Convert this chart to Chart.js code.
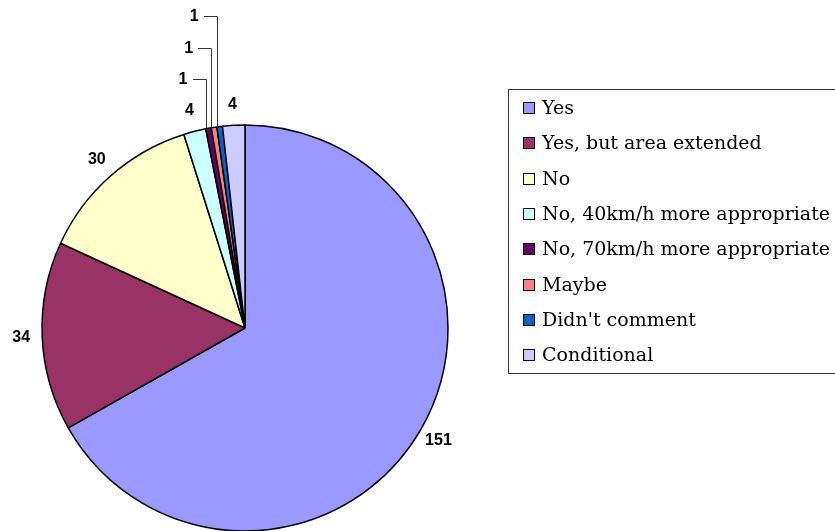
<!DOCTYPE html>
<html>
<head>
<meta charset="utf-8">
<script src="https://cdn.jsdelivr.net/npm/chart.js@4/dist/chart.umd.min.js"></script>
<style>
  html, body { margin: 0; padding: 0; background: #fff; }
  #wrap { width: 835px; height: 531px; }
</style>
</head>
<body>
<div id="wrap"><canvas id="pieChart" width="835" height="531"></canvas></div>
<script>
// answers and counts
const labels = ["Yes", "Yes, but area extended", "No", "No, 40km/h more appropriate",
    "No, 70km/h more appropriate", "Maybe", "Didn't comment", "Conditional"];
const counts = [151, 34, 30, 4, 1, 1, 1, 4];
const colors = ["#9999FF", "#993366", "#FFFFCC", "#CCFFFF", "#660066", "#FF8080", "#0066CC", "#CCCCFF"];

// small slices get a leader line
const leaderIdx = [4, 5, 6];

const labelPlugin = {
    id: "sliceLabels",
    afterDatasetsDraw(chart) {
        const ctx = chart.ctx;
        const meta = chart.getDatasetMeta(0);
        ctx.save();
        ctx.font = "bold 16px 'Liberation Sans', Arial, sans-serif";
        ctx.fillStyle = "#000";
        ctx.textBaseline = "middle";
        meta.data.forEach((arc, i) => {
            const p = arc.getProps(["x", "y", "startAngle", "endAngle", "outerRadius"], true);
            const mid = (p.startAngle + p.endAngle) / 2;
            const k = leaderIdx.indexOf(i);
            if (k < 0) {
                const r = p.outerRadius + 21;
                ctx.textAlign = "center";
                ctx.fillText(String(counts[i]), p.x + r * Math.cos(mid), p.y + r * Math.sin(mid));
            } else {
                const ex = p.x + p.outerRadius * Math.cos(mid) - 3;
                const ey = p.y + p.outerRadius * Math.sin(mid);
                const ly = Math.round(p.y - p.outerRadius - 46 - 31.5 * k);
                ctx.strokeStyle = "#333";
                ctx.lineWidth = 1;
                ctx.beginPath();
                ctx.moveTo(Math.round(ex) + 0.5, ey);
                ctx.lineTo(Math.round(ex) + 0.5, ly + 0.5);
                ctx.lineTo(Math.round(ex) - 13, ly + 0.5);
                ctx.stroke();
                ctx.textAlign = "right";
                ctx.fillText(String(counts[i]), ex - 18, ly + 1);
            }
        });
        ctx.restore();
    }
};

const legendPlugin = {
    id: "boxLegend",
    afterDraw(chart) {
        const ctx = chart.ctx;
        const x0 = 508, y0 = 89, w = 340, h = 284;
        ctx.save();
        ctx.strokeStyle = "#333";
        ctx.lineWidth = 1;
        ctx.strokeRect(x0 + 0.5, y0 + 0.5, w, h);
        ctx.font = "19px 'DejaVu Serif', serif";
        ctx.textBaseline = "middle";
        ctx.textAlign = "left";
        labels.forEach((lab, i) => {
            const cy = Math.round(108 + i * 35.3);
            ctx.fillStyle = colors[i];
            ctx.fillRect(523, cy - 6, 12, 12);
            ctx.strokeStyle = "#000";
            ctx.strokeRect(523.5, cy - 5.5, 11, 11);
            ctx.fillStyle = "#000";
            ctx.fillText(lab, 542, cy + 1);
        });
        ctx.restore();
    }
};

new Chart(document.getElementById("pieChart"), {
    type: "pie",
    data: {
        labels,
        datasets: [{
            data: counts,
            backgroundColor: colors,
            borderColor: "#000",
            borderWidth: 1.5,
            radius: 203
        }]
    },
    options: {
        responsive: false,
        animation: false,
        devicePixelRatio: 1,
        layout: { padding: { left: 42, right: 387, top: 125, bottom: 0 } },
        plugins: {
            legend: { display: false },
            tooltip: { enabled: false }
        }
    },
    plugins: [labelPlugin, legendPlugin]
});
</script>
</body>
</html>
